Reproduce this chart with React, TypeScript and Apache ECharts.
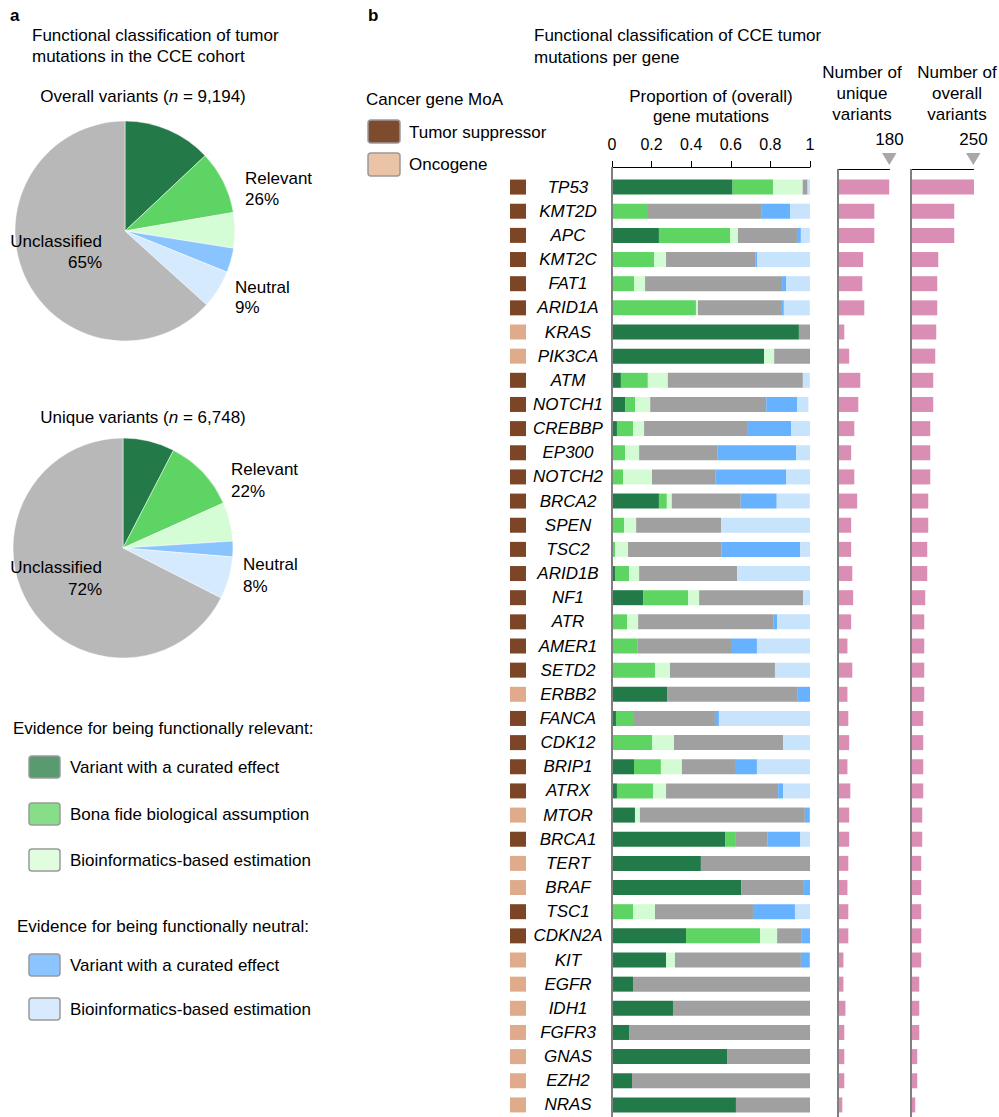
import React, { useEffect, useRef } from 'react';
import * as echarts from 'echarts';

const FONT = '"Liberation Sans", Arial, Helvetica, sans-serif';

const genes = ['TP53', 'KMT2D', 'APC', 'KMT2C', 'FAT1', 'ARID1A', 'KRAS', 'PIK3CA', 'ATM', 'NOTCH1', 'CREBBP', 'EP300', 'NOTCH2', 'BRCA2', 'SPEN', 'TSC2', 'ARID1B', 'NF1', 'ATR', 'AMER1', 'SETD2', 'ERBB2', 'FANCA', 'CDK12', 'BRIP1', 'ATRX', 'MTOR', 'BRCA1', 'TERT', 'BRAF', 'TSC1', 'CDKN2A', 'KIT', 'EGFR', 'IDH1', 'FGFR3', 'GNAS', 'EZH2', 'NRAS'];

const moa = ['TS', 'TS', 'TS', 'TS', 'TS', 'TS', 'OG', 'OG', 'TS', 'TS', 'TS', 'TS', 'TS', 'TS', 'TS', 'TS', 'TS', 'TS', 'TS', 'TS', 'TS', 'OG', 'TS', 'TS', 'TS', 'TS', 'OG', 'TS', 'OG', 'OG', 'TS', 'TS', 'OG', 'OG', 'OG', 'OG', 'OG', 'OG', 'OG'];

const relevantCurated = [0.609, 0, 0.237, 0, 0, 0, 0.944, 0.768, 0.045, 0.066, 0.025, 0, 0, 0.237, 0, 0, 0.015, 0.157, 0, 0, 0, 0.278, 0.020, 0, 0.111, 0.025, 0.116, 0.571, 0.449, 0.652, 0, 0.374, 0.273, 0.106, 0.308, 0.086, 0.581, 0.101, 0.626];
const relevantBonaFide = [0.204, 0.177, 0.359, 0.212, 0.111, 0.424, 0, 0, 0.136, 0.051, 0.081, 0.066, 0.056, 0.040, 0.061, 0.015, 0.071, 0.227, 0.076, 0.130, 0.217, 0, 0.091, 0.202, 0.136, 0.182, 0, 0.051, 0, 0, 0.106, 0.374, 0, 0, 0, 0, 0, 0, 0];
const relevantBioinf = [0.150, 0, 0.040, 0.061, 0.056, 0.010, 0, 0.051, 0.101, 0.076, 0.056, 0.071, 0.146, 0.025, 0.061, 0.066, 0.051, 0.056, 0.056, 0, 0.076, 0, 0, 0.111, 0.106, 0.066, 0.025, 0, 0, 0, 0.111, 0.086, 0.045, 0, 0, 0, 0, 0, 0];
const unclassified = [0.025, 0.576, 0.298, 0.453, 0.692, 0.424, 0.056, 0.182, 0.682, 0.586, 0.520, 0.397, 0.322, 0.348, 0.429, 0.473, 0.495, 0.525, 0.682, 0.471, 0.530, 0.657, 0.409, 0.551, 0.268, 0.566, 0.833, 0.162, 0.551, 0.313, 0.495, 0.121, 0.636, 0.894, 0.692, 0.914, 0.419, 0.899, 0.374];
const neutralCurated = [0, 0.146, 0.020, 0.007, 0.020, 0.010, 0, 0, 0, 0.157, 0.222, 0.396, 0.355, 0.182, 0, 0.396, 0, 0, 0.020, 0.131, 0, 0.066, 0.020, 0, 0.111, 0.025, 0.025, 0.167, 0, 0.035, 0.212, 0.045, 0.045, 0, 0, 0, 0, 0, 0];
const neutralBioinf = [0.012, 0.101, 0.045, 0.268, 0.121, 0.131, 0, 0, 0.035, 0.056, 0.096, 0.071, 0.121, 0.167, 0.449, 0.051, 0.369, 0.035, 0.167, 0.268, 0.177, 0, 0.460, 0.136, 0.268, 0.136, 0, 0.051, 0, 0, 0.076, 0, 0, 0, 0, 0, 0, 0, 0];

const uniqueCounts = [179, 127, 127, 88, 85, 92, 22, 39, 78, 71, 57, 46, 57, 67, 46, 46, 50, 53, 46, 33, 50, 33, 36, 39, 33, 43, 39, 39, 36, 33, 36, 36, 19, 19, 26, 22, 22, 22, 15];
const overallCounts = [252, 173, 173, 109, 105, 105, 101, 97, 89, 89, 77, 77, 77, 69, 69, 65, 65, 57, 53, 53, 53, 53, 49, 49, 49, 49, 45, 45, 41, 41, 41, 41, 41, 33, 33, 33, 25, 25, 17];

const pieCategories = ['Relevant: curated', 'Relevant: bona fide', 'Relevant: bioinformatics', 'Neutral: curated', 'Neutral: bioinformatics', 'Unclassified'];
const pieOverall = [13.0, 9.3, 5.2, 3.6, 5.6, 63.3];
const pieUnique = [7.6, 10.7, 5.7, 2.3, 6.2, 67.5];

const proportionTicks = [0, 0.2, 0.4, 0.6, 0.8, 1];

const barColors = ['#217A47', '#5ED462', '#D4FCD4', '#A0A0A0', '#66B2FF', '#C8E3FC'];
const pieColors = ['#237A48', '#5DD463', '#D5FDD5', '#8AC4FF', '#D6EAFD', '#B8B8B8'];

function txt(x: number, y: number, text: string, o: any = {}) {
  const align = o.align || 'left';
  return {
    type: 'text', x, y, silent: true, z: 20,
    style: {
      text, fontSize: o.fontSize || 17, fontFamily: FONT, fill: '#000',
      fontStyle: o.fontStyle || 'normal', fontWeight: o.fontWeight || 'normal',
      align, textAlign: align, verticalAlign: 'middle', textVerticalAlign: 'middle',
      rich: o.rich,
    },
  };
}

function box(x: number, y: number, w: number, h: number, fill: string) {
  return {
    type: 'rect', silent: true, z: 20,
    shape: { x, y, width: w, height: h, r: 3 },
    style: { fill, stroke: '#9A9A9A', lineWidth: 1.5 },
  };
}

export default function App() {
  const ref = useRef<HTMLDivElement>(null);
  useEffect(() => {
    const chart = echarts.init(ref.current!, null, { renderer: 'svg' });
    const gridTop = 175;
    const gridHeight = 946;
    const stackData = [relevantCurated, relevantBonaFide, relevantBioinf, unclassified, neutralCurated, neutralBioinf];
    const stackNames = ['Relevant curated', 'Bona fide', 'Relevant bioinformatics', 'Unclassified', 'Neutral curated', 'Neutral bioinformatics'];
    const richNItalic = {
      a: { fontSize: 17, fontFamily: FONT, fill: '#000' },
      i: { fontSize: 17, fontFamily: FONT, fontStyle: 'italic', fill: '#000' },
    };

    const option: any = {
      animation: false,
      textStyle: { fontFamily: FONT },
      grid: [
        { left: 612, width: 198, top: gridTop, height: gridHeight },
        { left: 510, width: 16, top: gridTop, height: gridHeight },
        { left: 838, width: 51.5, top: gridTop, height: gridHeight },
        { left: 911, width: 62.5, top: gridTop, height: gridHeight },
      ],
      xAxis: [
        {
          gridIndex: 0, type: 'value', min: 0, max: 1, interval: 0.2, position: 'top', offset: 8,
          axisLine: { show: true, lineStyle: { color: '#000', width: 1 } },
          axisTick: { show: true, inside: false, length: 6, lineStyle: { color: '#000' } },
          axisLabel: { fontSize: 16, color: '#000', margin: 15, fontFamily: FONT,
            formatter: (v: number) => (proportionTicks.includes(Math.round(v * 10) / 10) ? String(Math.round(v * 10) / 10) : '') },
          splitLine: { show: false },
        },
        { gridIndex: 1, type: 'value', min: -1, max: 1, show: false },
        {
          gridIndex: 2, type: 'value', min: 0, max: 180, interval: 180, position: 'top', offset: 6,
          axisLine: { show: true, lineStyle: { color: '#000', width: 1 } },
          axisTick: { show: false },
          axisLabel: { fontSize: 17, color: '#000', margin: 21, showMinLabel: false, fontFamily: FONT,
            formatter: (v: number) => (v === 180 ? '180' : '') },
          splitLine: { show: false },
        },
        {
          gridIndex: 3, type: 'value', min: 0, max: 250, interval: 250, position: 'top', offset: 6,
          axisLine: { show: true, lineStyle: { color: '#000', width: 1 } },
          axisTick: { show: false },
          axisLabel: { fontSize: 17, color: '#000', margin: 21, showMinLabel: false, fontFamily: FONT,
            formatter: (v: number) => (v === 250 ? '250' : '') },
          splitLine: { show: false },
        },
      ],
      yAxis: [
        {
          gridIndex: 0, type: 'category', data: genes, inverse: true,
          axisLine: { show: false }, axisTick: { show: false },
          axisLabel: { fontSize: 17, fontStyle: 'italic', color: '#000', align: 'center', margin: 44, fontFamily: FONT },
        },
        { gridIndex: 1, type: 'category', data: genes, inverse: true, show: false },
        { gridIndex: 2, type: 'category', data: genes, inverse: true, show: false },
        { gridIndex: 3, type: 'category', data: genes, inverse: true, show: false },
      ],
      series: [
        ...stackData.map((d, k) => ({
          type: 'bar', name: stackNames[k], stack: 'prop', xAxisIndex: 0, yAxisIndex: 0,
          data: d, barWidth: 15, itemStyle: { color: barColors[k] }, silent: true,
        })),
        {
          type: 'scatter', xAxisIndex: 1, yAxisIndex: 1, symbol: 'rect', symbolSize: [16, 15], silent: true,
          data: genes.map((g, i) => ({ value: [0, i], itemStyle: { opacity: 1, color: moa[i] === 'TS' ? '#7B4526' : '#E0AB8B' } })),
        },
        {
          type: 'bar', xAxisIndex: 2, yAxisIndex: 2, data: uniqueCounts, barWidth: 15, clip: false,
          itemStyle: { color: '#DA8EB4' }, silent: true,
        },
        {
          type: 'bar', xAxisIndex: 3, yAxisIndex: 3, data: overallCounts, barWidth: 15, clip: false,
          itemStyle: { color: '#DA8EB4' }, silent: true,
        },
        {
          type: 'pie', center: [125, 231], radius: 110, startAngle: 90, clockwise: true, silent: true,
          label: { show: false }, labelLine: { show: false },
          itemStyle: { borderColor: '#fff', borderWidth: 0.5 },
          data: pieOverall.map((v, i) => ({ name: pieCategories[i], value: v, itemStyle: { color: pieColors[i] } })),
        },
        {
          type: 'pie', center: [123, 548], radius: 110, startAngle: 90, clockwise: true, silent: true,
          label: { show: false }, labelLine: { show: false },
          itemStyle: { borderColor: '#fff', borderWidth: 0.5 },
          data: pieUnique.map((v, i) => ({ name: pieCategories[i], value: v, itemStyle: { color: pieColors[i] } })),
        },
      ],
      graphic: [
        { type: 'line', silent: true, z: 10, shape: { x1: 612, y1: 167, x2: 612, y2: 1117 }, style: { stroke: '#7F7F7F', lineWidth: 2 } },
        { type: 'line', silent: true, z: 10, shape: { x1: 838, y1: 169, x2: 838, y2: 1117 }, style: { stroke: '#7F7F7F', lineWidth: 2 } },
        { type: 'line', silent: true, z: 10, shape: { x1: 911, y1: 169, x2: 911, y2: 1117 }, style: { stroke: '#7F7F7F', lineWidth: 2 } },
        { type: 'polygon', silent: true, z: 10, shape: { points: [[882, 153], [896.5, 153], [889.3, 165]] }, style: { fill: '#A8A8A8' } },
        { type: 'polygon', silent: true, z: 10, shape: { points: [[966, 153], [980.5, 153], [973.3, 165]] }, style: { fill: '#A8A8A8' } },
        txt(10, 15, 'a', { fontWeight: 'bold', fontSize: 17 }),
        txt(32, 35, 'Functional classification of tumor'),
        txt(32, 56, 'mutations in the CCE cohort'),
        txt(143, 96, '{a|Overall variants (}{i|n}{a| = 9,194)}', { align: 'center', rich: richNItalic }),
        txt(245, 178, 'Relevant'),
        txt(245, 199, '26%'),
        txt(235, 287, 'Neutral'),
        txt(235, 307, '9%'),
        txt(102, 241, 'Unclassified', { align: 'right' }),
        txt(102, 262, '65%', { align: 'right' }),
        txt(143, 417, '{a|Unique variants (}{i|n}{a| = 6,748)}', { align: 'center', rich: richNItalic }),
        txt(231, 469, 'Relevant'),
        txt(231, 491, '22%'),
        txt(243, 564, 'Neutral'),
        txt(243, 586, '8%'),
        txt(102, 567, 'Unclassified', { align: 'right' }),
        txt(102, 589, '72%', { align: 'right' }),
        txt(13, 728, 'Evidence for being functionally relevant:'),
        box(29, 756, 31, 22, '#5A9A70'),
        txt(70, 767, 'Variant with a curated effect'),
        box(29, 803, 31, 22, '#88DD88'),
        txt(70, 814, 'Bona fide biological assumption'),
        box(29, 849, 31, 22, '#E0FDE0'),
        txt(70, 860, 'Bioinformatics-based estimation'),
        txt(17, 926, 'Evidence for being functionally neutral:'),
        box(29, 954, 31, 22, '#8CC4FF'),
        txt(70, 965, 'Variant with a curated effect'),
        box(29, 998, 31, 22, '#D8EAFD'),
        txt(70, 1009, 'Bioinformatics-based estimation'),
        txt(368, 15, 'b', { fontWeight: 'bold', fontSize: 17 }),
        txt(534, 35, 'Functional classification of CCE tumor'),
        txt(534, 57, 'mutations per gene'),
        txt(366, 99, 'Cancer gene MoA'),
        box(368, 120, 32, 23, '#7F4B2E'),
        txt(409, 132, 'Tumor suppressor'),
        box(368, 153, 32, 23, '#EBC3A7'),
        txt(409, 164, 'Oncogene'),
        txt(711, 96, 'Proportion of (overall)', { align: 'center' }),
        txt(711, 116, 'gene mutations', { align: 'center' }),
        txt(862, 72, 'Number of', { align: 'center' }),
        txt(862, 93, 'unique', { align: 'center' }),
        txt(862, 114, 'variants', { align: 'center' }),
        txt(957, 72, 'Number of', { align: 'center' }),
        txt(957, 93, 'overall', { align: 'center' }),
        txt(957, 114, 'variants', { align: 'center' }),
      ],
    };
    chart.setOption(option);
    return () => chart.dispose();
  }, []);
  return <div ref={ref} style={{ position: 'absolute', left: 0, top: 0, width: 999, height: 1117 }} />;
}
